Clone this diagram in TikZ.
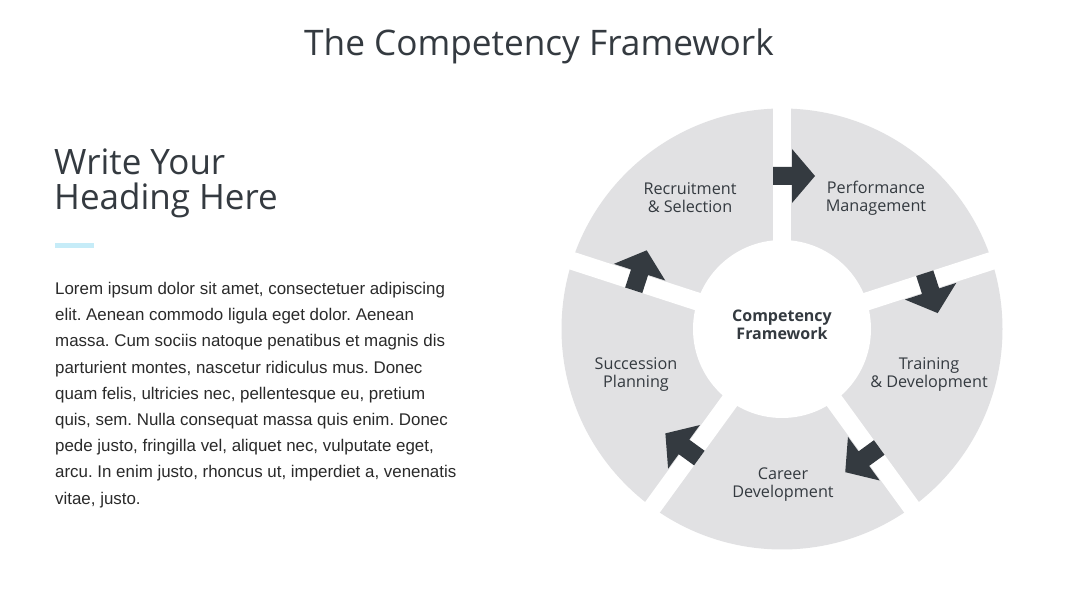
\documentclass[tikz,border=0pt]{standalone}
\usepackage{fontspec}
\setmainfont{Open Sans}
\newfontfamily\bodyfont{Liberation Sans}
\usepackage{tikz}
\usetikzlibrary{calc}
\definecolor{Ink}{HTML}{343A40}
\definecolor{Body}{HTML}{2A2A2A}
\definecolor{Ring}{HTML}{E1E1E3}
\definecolor{Accent}{HTML}{C6ECF8}
\tikzset{
  seglabel/.style={font=\fontsize{16.2}{18}\selectfont,text=Ink,align=center},
  hublabel/.style={seglabel,font=\fontsize{16}{18}\selectfont\bfseries},
  gapline/.style={draw=white,line width=18pt},
  cyclearrow/.style={fill=Ink}
}
\begin{document}
\frenchspacing
\begin{tikzpicture}[x=1pt,y=1pt]
  \useasboundingbox[fill=white] (0,0) rectangle (1080,608);
  \coordinate (C) at (782,279);
  % title and left column
  \node[text=Ink,font=\fontsize{35.2}{40}\selectfont] (title) at (539,562) {The Competency Framework};
  \node[text=Ink,font=\fontsize{35}{35}\selectfont,anchor=north west,align=left,inner sep=0pt] (heading) at (54,459) {Write Your\\Heading Here};
  \fill[Accent] (55,360) rectangle (94,365);
  \node[text=Body,font=\bodyfont\fontsize{16.9}{26.2}\selectfont,anchor=north west,align=left,inner sep=0pt] (body) at (55,326) {Lorem ipsum dolor sit amet, consectetuer adipiscing\\elit. Aenean commodo ligula eget dolor. Aenean\\massa. Cum sociis natoque penatibus et magnis dis\\parturient montes, nascetur ridiculus mus. Donec\\quam felis, ultricies nec, pellentesque eu, pretium\\quis, sem. Nulla consequat massa quis enim. Donec\\pede justo, fringilla vel, aliquet nec, vulputate eget,\\arcu. In enim justo, rhoncus ut, imperdiet a, venenatis\\vitae, justo.};
  % ring with five gaps
  \fill[Ring] (C) circle (220.5);
  \foreach \a in {90,18,-54,-126,162}
    \draw[gapline] (C) -- ++(\a:240);
  \fill[white] (C) circle (89);
  \foreach \a in {90,18,-54,-126,162}
    \fill[cyclearrow,shift={($(C)+(\a:153)$)},rotate=\a-90] (-9,-9) -- (10,-9) -- (10,-27) -- (33,0) -- (10,27) -- (10,9) -- (-9,9) -- cycle;
  \node[hublabel] (hub) at (782,283) {Competency\\Framework};
  \node[seglabel] (recruit) at (690,410) {Recruitment\\\& Selection};
  \node[seglabel] (perform) at (876,410) {Performance\\Management};
  \node[seglabel] (training) at (929,233) {Training\\\& Development};
  \node[seglabel] (career) at (783,123) {Career\\Development};
  \node[seglabel] (succession) at (636,233) {Succession\\Planning};
\end{tikzpicture}
\end{document}
